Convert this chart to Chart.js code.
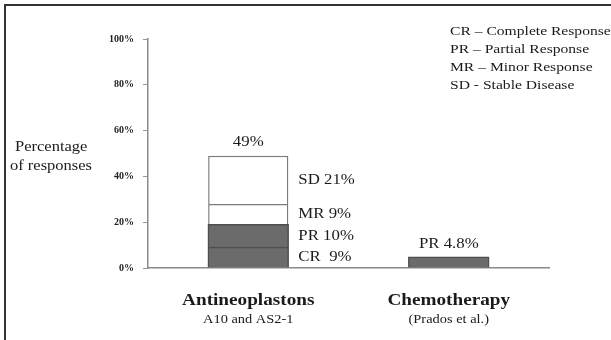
<!DOCTYPE html>
<html>
<head>
<meta charset="utf-8">
<script src="https://cdn.jsdelivr.net/npm/chart.js@4.4.1/dist/chart.umd.min.js"></script>
<style>
  body { margin: 0; background: #fff; }
  #wrap { position: relative; width: 611px; height: 340px; overflow: hidden; }
  #frame { position: absolute; left: 4px; top: 4px; width: 700px; height: 400px;
           border-top: 2px solid #333; border-left: 2px solid #333; pointer-events: none; }
</style>
</head>
<body>
<div id="wrap">
  <canvas id="chart" width="611" height="340"></canvas>
  <div id="frame"></div>
</div>
<script>
// data
const categories = ['Antineoplastons', 'Chemotherapy'];
const subLabels = ['A10 and AS2-1', '(Prados et al.)'];
const crValues = [9, null];
const prValues = [10, 4.8];
const mrValues = [9, null];
const sdValues = [21, null];
const crLabels = ['CR  9%', ''];
const prLabels = ['PR 10%', ''];
const mrLabels = ['MR 9%', ''];
const sdLabels = ['SD 21%', ''];
const topLabels = ['49%', 'PR 4.8%'];
const keyLines = ['CR \u2013 Complete Response', 'PR \u2013 Partial Response', 'MR \u2013 Minor Response', 'SD - Stable Disease'];
const yTitle = ['Percentage', 'of responses'];

const serif = '"Liberation Serif", "DejaVu Serif", serif';

// text in the picture is drawn a bit wide
function wideText(ctx, txt, x, y, font, align, stretch) {
  ctx.save();
  ctx.translate(x, y);
  ctx.scale(stretch || 1.2, 1);
  ctx.font = font;
  ctx.textAlign = align;
  ctx.textBaseline = 'middle';
  ctx.fillStyle = '#1a1a1a';
  ctx.fillText(txt, 0, 0);
  ctx.restore();
}

const labelPlugin = {
  id: 'labelPlugin',
  afterDraw(chart) {
    const ctx = chart.ctx;
    const segLabels = [crLabels, prLabels, mrLabels, sdLabels];
    // segment labels to the right of the stack
    segLabels.forEach((labels, di) => {
      const meta = chart.getDatasetMeta(di);
      meta.data.forEach((bar, i) => {
        if (!labels[i]) return;
        const p = bar.getProps(['x', 'y', 'base', 'width'], true);
        wideText(ctx, labels[i], p.x + p.width / 2 + 10, (p.y + p.base) / 2, '14px ' + serif, 'left');
      });
    });
    // labels above each stack and under the axis
    const yScale = chart.scales.y;
    const xScale = chart.scales.x;
    categories.forEach((c, i) => {
      const total = [crValues, prValues, mrValues, sdValues].reduce((s, a) => s + (a[i] || 0), 0);
      const x = xScale.getPixelForValue(i);
      wideText(ctx, topLabels[i], x, yScale.getPixelForValue(total) - 13, '14px ' + serif, 'center');
      wideText(ctx, c, x, chart.chartArea.bottom + 33, 'bold 16px ' + serif, 'center');
      wideText(ctx, subLabels[i], x, chart.chartArea.bottom + 52, '12px ' + serif, 'center');
    });
    // y title, horizontal
    wideText(ctx, yTitle[0], 15, 147, '15px ' + serif, 'left', 1.1);
    wideText(ctx, yTitle[1], 10, 166, '15px ' + serif, 'left', 1.1);
    // key box
    keyLines.forEach((t, i) => {
      wideText(ctx, t, 450, 32 + i * 17.7, '13px ' + serif, 'left');
    });
  }
};

const dark = '#6b6b6b';
const darkEdge = '#4e4e4e';
const lightEdge = '#7c7c7c';

new Chart(document.getElementById('chart'), {
  type: 'bar',
  data: {
    labels: categories,
    datasets: [
      { label: 'CR', data: crValues, backgroundColor: dark, borderColor: darkEdge, borderWidth: 1.5, inflateAmount: 0.6 },
      { label: 'PR', data: prValues, backgroundColor: dark, borderColor: darkEdge, borderWidth: 1.5, inflateAmount: 0.6 },
      { label: 'MR', data: mrValues, backgroundColor: '#fff', borderColor: lightEdge, borderWidth: 1.5 },
      { label: 'SD', data: sdValues, backgroundColor: '#fff', borderColor: lightEdge, borderWidth: 1.5 }
    ]
  },
  options: {
    responsive: false,
    animation: false,
    layout: { padding: { left: 0, right: 62, top: 39, bottom: 0 } },
    plugins: { legend: { display: false }, tooltip: { enabled: false } },
    datasets: { bar: { categoryPercentage: 1, barPercentage: 0.4 } },
    scales: {
      x: {
        stacked: true,
        grid: { display: false },
        border: { color: '#8a8a8a', width: 1.5 },
        ticks: { display: false },
        afterFit(scale) { scale.height = 72; }
      },
      y: {
        stacked: true,
        min: 0,
        max: 100,
        ticks: {
          stepSize: 20,
          callback: v => v + '%',
          font: { family: serif, size: 10, weight: 'bold' },
          color: '#222',
          padding: 9
        },
        grid: { drawOnChartArea: false, tickLength: 5, color: '#999' },
        border: { color: '#8a8a8a', width: 1.5 },
        afterFit(scale) { scale.width = 148; }
      }
    }
  },
  plugins: [labelPlugin]
});
</script>
</body>
</html>
